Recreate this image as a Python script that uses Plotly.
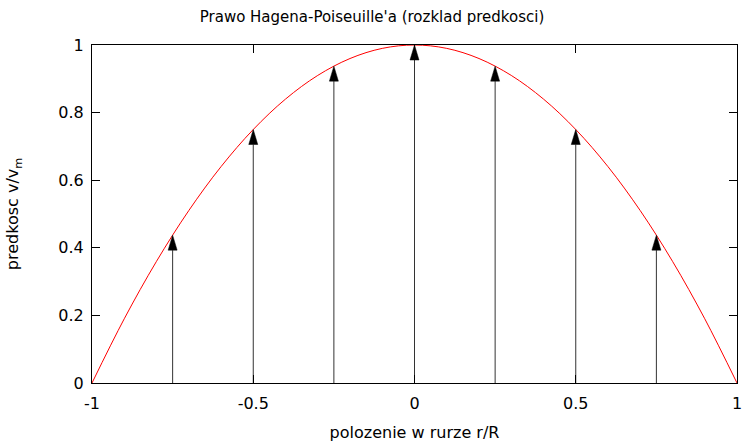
import plotly.graph_objects as go

# Data
curve_x = [-1.0, -0.9, -0.8, -0.7, -0.6, -0.5, -0.4, -0.3, -0.2, -0.1, 0.0,
           0.1, 0.2, 0.3, 0.4, 0.5, 0.6, 0.7, 0.8, 0.9, 1.0]
curve_y = [0.0, 0.19, 0.36, 0.51, 0.64, 0.75, 0.84, 0.91, 0.96, 0.99, 1.0,
           0.99, 0.96, 0.91, 0.84, 0.75, 0.64, 0.51, 0.36, 0.19, 0.0]
arrow_x = [-0.75, -0.5, -0.25, 0.0, 0.25, 0.5, 0.75]
arrow_v = [0.4375, 0.75, 0.9375, 1.0, 0.9375, 0.75, 0.4375]
x_ticks = [-1, -0.5, 0, 0.5, 1]
x_tick_labels = ["-1", "-0.5", "0", "0.5", "1"]
y_ticks = [0, 0.2, 0.4, 0.6, 0.8, 1]
y_tick_labels = ["0", "0.2", "0.4", "0.6", "0.8", "1"]

FONT = "DejaVu Sans"
W, H = 744, 442
ML, MR, MT, MB = 92, 7, 45, 59
XR = [-1, 1]
YR = [0, 1]
plot_w = W - ML - MR
plot_h = H - MT - MB
# arrowhead size in pixels converted to data units
HEAD_LEN = 15 * (YR[1] - YR[0]) / plot_h
HEAD_HW = 4.5 * (XR[1] - XR[0]) / plot_w

fig = go.Figure()
fig.add_trace(go.Scatter(x=curve_x, y=curve_y, mode="lines",
                         line=dict(color="#ff0000", width=1, shape="spline"),
                         hoverinfo="skip", showlegend=False))

# arrow shafts
sx, sy = [], []
for xv, yv in zip(arrow_x, arrow_v):
    sx += [xv, xv, None]
    sy += [0, yv - HEAD_LEN, None]
fig.add_trace(go.Scatter(x=sx, y=sy, mode="lines",
                         line=dict(color="#333333", width=1),
                         hoverinfo="skip", showlegend=False))

# arrow heads
hx, hy = [], []
for xv, yv in zip(arrow_x, arrow_v):
    hx += [xv - HEAD_HW, xv, xv + HEAD_HW, xv - HEAD_HW, None]
    hy += [yv - HEAD_LEN, yv, yv - HEAD_LEN, yv - HEAD_LEN, None]
fig.add_trace(go.Scatter(x=hx, y=hy, mode="lines", fill="toself",
                         fillcolor="black", line=dict(color="black", width=0.5),
                         hoverinfo="skip", showlegend=False))

fig.update_layout(
    width=W, height=H,
    margin=dict(l=ML, r=MR, t=MT, b=MB),
    paper_bgcolor="white", plot_bgcolor="white",
    font=dict(family=FONT, size=16, color="black"),
    title=dict(text="Prawo Hagena-Poiseuille'a (rozklad predkosci)",
               x=0.5, xanchor="center", y=1 - 17 / H, yanchor="middle",
               font=dict(family=FONT, size=15, color="black")),
    showlegend=False,
)
fig.update_xaxes(range=XR, tickvals=x_ticks, ticktext=x_tick_labels,
                 showgrid=False, zeroline=False, showline=True, linecolor="black",
                 linewidth=1, mirror="ticks", ticks="inside", ticklen=8,
                 tickcolor="black", tickfont=dict(size=16), ticklabelstandoff=6,
                 automargin=False,
                 title=dict(text="polozenie w rurze r/R", font=dict(size=16), standoff=16))
fig.update_yaxes(range=YR, tickvals=y_ticks, ticktext=y_tick_labels,
                 showgrid=False, zeroline=False, showline=True, linecolor="black",
                 linewidth=1, mirror="ticks", ticks="inside", ticklen=8,
                 tickcolor="black", tickfont=dict(size=16), ticklabelstandoff=4,
                 automargin=False,
                 title=dict(text="predkosc v/v<sub>m</sub>", font=dict(size=16), standoff=35))

fig.write_html("out.html", config={"displayModeBar": False},
               post_script="document.body.style.margin='0';")
